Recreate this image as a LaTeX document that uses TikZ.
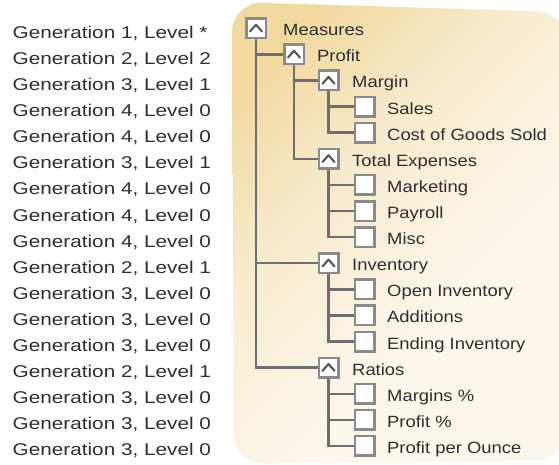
\documentclass[tikz,border=0pt]{standalone}
\usepackage{fontspec}
\newfontfamily\treefont[FakeStretch=1.13]{Liberation Sans}
\newfontfamily\genfont[FakeStretch=1.22]{Liberation Sans}
\definecolor{txt}{HTML}{2E2E2E}
\definecolor{boxgray}{HTML}{8A8A8A}
\definecolor{linegray}{HTML}{6E6E6E}
\definecolor{caretgray}{HTML}{555555}
\definecolor{bgtan}{HTML}{F1D9A0}
\definecolor{bgmid}{HTML}{F7EBCD}
\definecolor{bgcream}{HTML}{FBF7EC}
\pgfdeclarehorizontalshading{bgshade}{100bp}{color(0bp)=(bgtan); color(21bp)=(bgtan); color(32bp)=(bgmid); color(48bp)=(bgcream); color(100bp)=(bgcream)}
\tikzset{
  treebox/.style={draw=boxgray, line width=2.5pt, fill=white, minimum size=19.5pt, inner sep=0pt},
  lbl/.style={anchor=base west, text=txt, inner sep=0pt, font=\treefont\fontsize{16.3}{18}\selectfont},
  gen/.style={anchor=base west, text=txt, inner sep=0pt, font=\genfont\fontsize{17}{19}\selectfont},
  conn/.style={draw=linegray, line width=2.4pt},
  caretline/.style={draw=caretgray, line width=2.1pt, line cap=round, line join=round}
}
\newcommand\mycaret[1]{\draw[caretline] (#1.center) ++(-6,3.2) -- ++(6,-6.8) -- ++(6,6.8);}
\begin{document}
\begin{tikzpicture}[x=1pt,y=-1pt]
\useasboundingbox (0,0) rectangle (559,465);
\begin{scope}
\clip (0,0) rectangle (559,465);
\clip[rounded corners=30pt] (232,2) -- (566,12) -- (566,460) -- (234,464) -- cycle;
\shade[shading=bgshade, shading angle=-45] (232,2) rectangle (792,562);
\end{scope}
% left column
\foreach \g/\l [count=\i from 0] in {1/*,2/2,3/1,4/0,4/0,3/1,4/0,4/0,4/0,2/1,3/0,3/0,3/0,2/1,3/0,3/0,3/0}{
  \node[gen] (g\i) at (12.5, 28.3+26.1*\i+10) {Generation \g, Level \l};
}
% boxes
\node[treebox] (m)   at (256,   28.3) {};
\node[treebox] (p)   at (294,   54.4) {};
\node[treebox] (mg)  at (328.5, 80.5) {};
\node[treebox] (s)   at (364.5, 106.6) {};
\node[treebox] (c)   at (364.5, 132.7) {};
\node[treebox] (te)  at (328.5, 158.8) {};
\node[treebox] (mk)  at (364.5, 184.9) {};
\node[treebox] (pr)  at (364.5, 211.0) {};
\node[treebox] (mi)  at (364.5, 237.1) {};
\node[treebox] (inv) at (328.5, 263.2) {};
\node[treebox] (oi)  at (364.5, 289.3) {};
\node[treebox] (ad)  at (364.5, 315.4) {};
\node[treebox] (ei)  at (364.5, 341.5) {};
\node[treebox] (ra)  at (328.5, 367.6) {};
\node[treebox] (mp)  at (364.5, 393.7) {};
\node[treebox] (pp)  at (364.5, 419.8) {};
\node[treebox] (ppo) at (364.5, 445.9) {};
\foreach \n in {m,p,mg,te,inv,ra}{\mycaret{\n}}
% labels
\node[lbl] (tm)   at (283, 28.3+7.5)  {Measures};
\node[lbl] (tp)   at (317, 54.4+7.5)  {Profit};
\node[lbl] (tmg)  at (352, 80.5+7.5)  {Margin};
\node[lbl] (ts)   at (387, 106.6+7.5) {Sales};
\node[lbl] (tc)   at (387, 132.7+7.5) {Cost of Goods Sold};
\node[lbl] (tte)  at (352, 158.8+7.5) {Total Expenses};
\node[lbl] (tmk)  at (387, 184.9+7.5) {Marketing};
\node[lbl] (tpr)  at (387, 211.0+7.5) {Payroll};
\node[lbl] (tmi)  at (387, 237.1+7.5) {Misc};
\node[lbl] (tinv) at (352, 263.2+7.5) {Inventory};
\node[lbl] (toi)  at (387, 289.3+7.5) {Open Inventory};
\node[lbl] (tad)  at (387, 315.4+7.5) {Additions};
\node[lbl] (tei)  at (387, 341.5+7.5) {Ending Inventory};
\node[lbl] (tra)  at (352, 367.6+7.5) {Ratios};
\node[lbl] (tmp)  at (387, 393.7+7.5) {Margins \%};
\node[lbl] (tpp)  at (387, 419.8+7.5) {Profit \%};
\node[lbl] (tppo) at (387, 445.9+7.5) {Profit per Ounce};
% connectors
\foreach \a/\b in {m/p, m/inv, m/ra, p/mg, p/te, mg/s, mg/c, te/mk, te/pr, te/mi, inv/oi, inv/ad, inv/ei, ra/mp, ra/pp, ra/ppo}{
  \draw[conn] (\a.south) |- (\b.west);
}
\end{tikzpicture}
\end{document}
